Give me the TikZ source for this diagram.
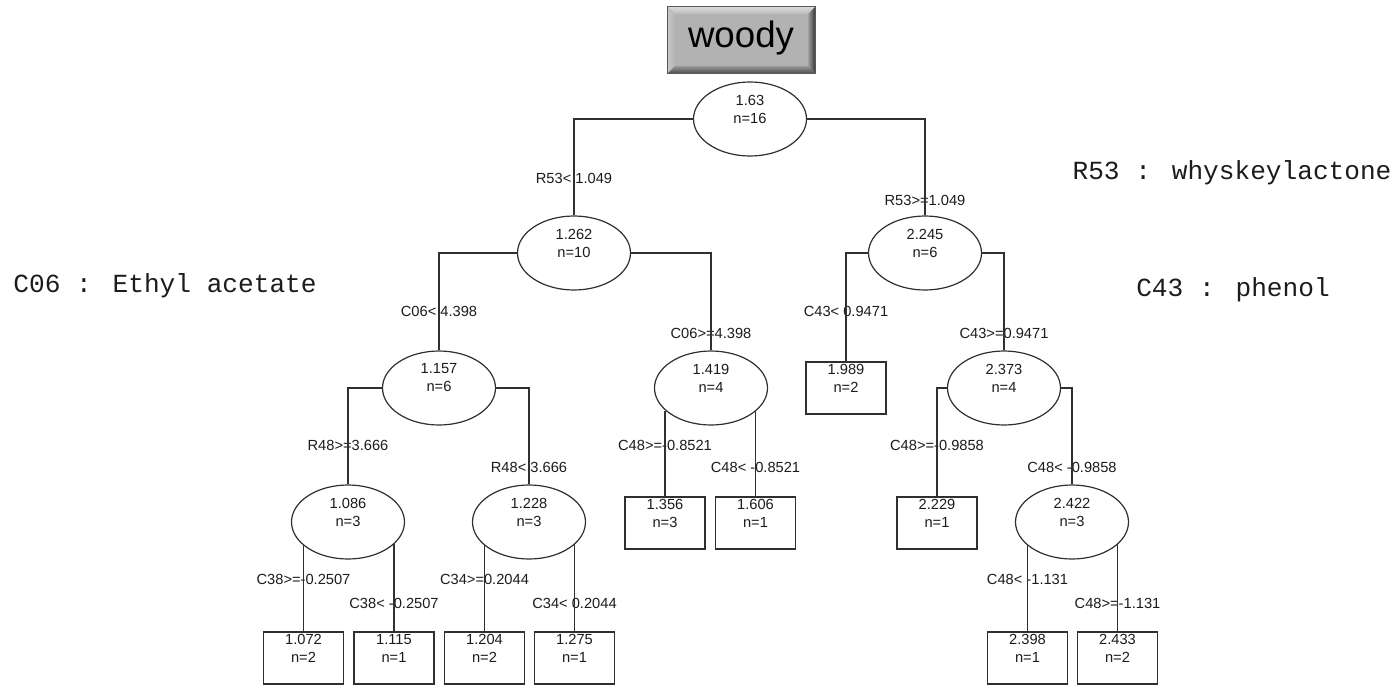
\documentclass[tikz,border=0pt]{standalone}
\usepackage{fontspec}
\setmainfont{Liberation Sans}
\newfontfamily\monofont{Liberation Mono}
\usetikzlibrary{shapes.geometric}

\definecolor{linec}{HTML}{303030}
\definecolor{txt}{HTML}{1C1C1C}

\tikzset{
  edge/.style={draw=linec, line width=0.95pt},
  split/.style={ellipse, draw=linec, line width=0.9pt, minimum width=84.75pt,
    minimum height=55.5pt, inner sep=0pt},
  leafbox/.style={rectangle, draw=linec, line width=0.9pt, minimum width=60pt,
    minimum height=39pt, inner sep=0pt},
  val/.style={font=\fontsize{11}{13.5}\selectfont, align=center, inner sep=0pt, text=txt},
  cond/.style={font=\fontsize{11}{13.5}\selectfont, inner sep=0pt, text=txt},
  note/.style={font=\monofont\fontsize{19.6}{24}\selectfont, anchor=base, inner sep=0pt, text=txt},
}

% split node: name, x, y, mean, count
\newcommand\splitnode[5]{%
  \node[split] (#1) at (#2,#3) {};
  \node[val] (#1-t) at (#2,#3-10) {#4\\n=#5};
}
% terminal node: name, x, top edge, mean, count
\newcommand\leafnode[5]{%
  \node[leafbox] (#1) at (#2,#3+26) {};
  \node[val] (#1-t) at (#2,#3+16) {#4\\n=#5};
}

\begin{document}
\begin{tikzpicture}[x=0.75pt, y=-0.75pt]
\fill[white] (0,0) rectangle (1395,685);
\useasboundingbox (0,0) rectangle (1395,685);

% ---- bevelled title button ----
\node[rectangle, minimum width=110.25pt, minimum height=49.5pt, inner sep=0pt] (title) at (741.5,40) {};
\def\bw{5.5pt}
\fill[gray!62] (title.south west) rectangle (title.north east);
\shade[top color=gray!28, bottom color=gray!55]
  (title.north west) -- (title.north east) -- ([xshift=-\bw,yshift=-\bw]title.north east)
  -- ([xshift=\bw,yshift=-\bw]title.north west) -- cycle;
\shade[left color=gray!45, right color=gray!60]
  (title.north west) -- ([xshift=\bw,yshift=-\bw]title.north west)
  -- ([xshift=\bw,yshift=\bw]title.south west) -- (title.south west) -- cycle;
\shade[left color=gray!75, right color=black!78]
  (title.north east) -- (title.south east) -- ([xshift=-\bw,yshift=\bw]title.south east)
  -- ([xshift=-\bw,yshift=-\bw]title.north east) -- cycle;
\shade[top color=gray!80, bottom color=black!70]
  (title.south west) -- ([xshift=\bw,yshift=\bw]title.south west)
  -- ([xshift=-\bw,yshift=\bw]title.south east) -- (title.south east) -- cycle;
\fill[gray!60] ([xshift=\bw,yshift=\bw]title.south west) rectangle ([xshift=-\bw,yshift=-\bw]title.north east);
\draw[gray!70!black, line width=0.5pt] (title.south west) rectangle (title.north east);
\node[font=\fontsize{27.5}{30}\selectfont, anchor=base, inner sep=0pt, text=black] (titletext) at (741,48) {woody};

% ---- variable key ----
\node[note] (keyC06) at (165,292) {C06 : Ethyl acetate};
\node[note] (keyR53) at (1232,179) {R53 : whyskeylactone};
\node[note] (keyC43) at (1233,296) {C43 : phenol};

% ---- tree nodes ----
\splitnode{root}{750}{119}{1.63}{16}
\splitnode{A}{574}{253}{1.262}{10}
\splitnode{B}{925}{253}{2.245}{6}
\splitnode{A1}{439}{388}{1.157}{6}
\splitnode{A2}{711}{388}{1.419}{4}
\leafnode{B1}{846}{362}{1.989}{2}
\splitnode{B2}{1004}{388}{2.373}{4}
\splitnode{A1a}{348}{522}{1.086}{3}
\splitnode{A1b}{529}{522}{1.228}{3}
\leafnode{A2a}{665}{497}{1.356}{3}
\leafnode{A2b}{755.5}{497}{1.606}{1}
\leafnode{B2a}{937}{497}{2.229}{1}
\splitnode{B2b}{1072}{522}{2.422}{3}
\leafnode{A1a1}{303.5}{632}{1.072}{2}
\leafnode{A1a2}{394}{632}{1.115}{1}
\leafnode{A1b1}{484.5}{632}{1.204}{2}
\leafnode{A1b2}{574.5}{632}{1.275}{1}
\leafnode{B2b1}{1027.5}{632}{2.398}{1}
\leafnode{B2b2}{1117.5}{632}{2.433}{2}

% ---- split conditions ----
\node[cond] (cA)    at (574,178)    {R53< 1.049};
\node[cond] (cB)    at (925,200)    {R53>=1.049};
\node[cond] (cA1)   at (439,311)    {C06< 4.398};
\node[cond] (cA2)   at (711,333)    {C06>=4.398};
\node[cond] (cB1)   at (846,311)    {C43< 0.9471};
\node[cond] (cB2)   at (1004,333)   {C43>=0.9471};
\node[cond] (cA1a)  at (348,445)    {R48>=3.666};
\node[cond] (cA1b)  at (529,467)    {R48< 3.666};
\node[cond] (cA2a)  at (665,445)    {C48>=-0.8521};
\node[cond] (cA2b)  at (755.5,467)  {C48< -0.8521};
\node[cond] (cB2a)  at (937,445)    {C48>=-0.9858};
\node[cond] (cB2b)  at (1072,467)   {C48< -0.9858};
\node[cond] (cA1a1) at (303.5,579)  {C38>=-0.2507};
\node[cond] (cA1a2) at (394,603)    {C38< -0.2507};
\node[cond] (cA1b1) at (484.5,579)  {C34>=0.2044};
\node[cond] (cA1b2) at (574.5,603)  {C34< 0.2044};
\node[cond] (cB2b1) at (1027.5,579) {C48< -1.131};
\node[cond] (cB2b2) at (1117.5,603) {C48>=-1.131};

% ---- connectors ----
\draw[edge] (root.west) -| (A.north);
\draw[edge] (root.east) -| (B.north);
\draw[edge] (A.west) -| (A1.north);
\draw[edge] (A.east) -| (A2.north);
\draw[edge] (B.west) -| (B1.north);
\draw[edge] (B.east) -| (B2.north);
\draw[edge] (A1.west) -| (A1a.north);
\draw[edge] (A1.east) -| (A1b.north);
\draw[edge] (B2.west) -| (B2a.north);
\draw[edge] (B2.east) -| (B2b.north);
\draw[edge] (A2a.north |- A2.-153.5) -- (A2a.north);
\draw[edge] (A2b.north |- A2.-26.5) -- (A2b.north);
\draw[edge] (A1a1.north |- A1a.-153.5) -- (A1a1.north);
\draw[edge] (A1a2.north |- A1a.-26.5) -- (A1a2.north);
\draw[edge] (A1b1.north |- A1b.-153.5) -- (A1b1.north);
\draw[edge] (A1b2.north |- A1b.-26.5) -- (A1b2.north);
\draw[edge] (B2b1.north |- B2b.-153.5) -- (B2b1.north);
\draw[edge] (B2b2.north |- B2b.-26.5) -- (B2b2.north);
\end{tikzpicture}
\end{document}
